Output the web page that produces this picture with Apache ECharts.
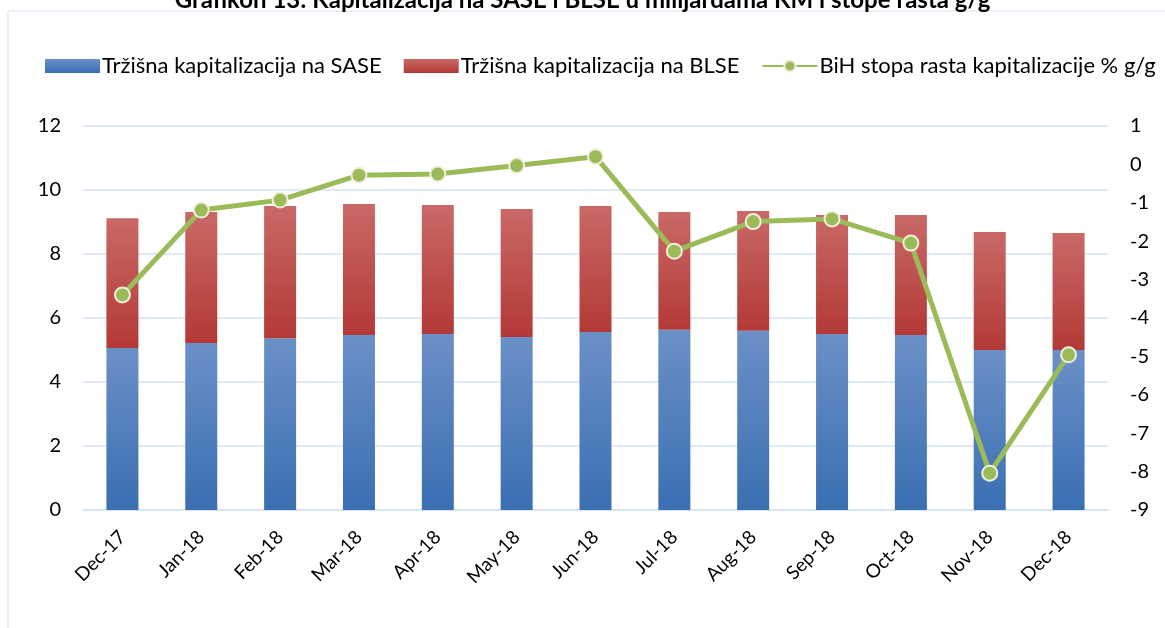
<!DOCTYPE html>
<html>
<head>
<meta charset="utf-8">
<script src="https://cdn.jsdelivr.net/npm/echarts@6/dist/echarts.min.js"></script>
<style>
  html, body { margin: 0; padding: 0; background: #fff; }
  #chart { width: 1165px; height: 628px; }
</style>
</head>
<body>
<div id="chart"></div>
<script>
// mjeseci
var months = ['Dec-17', 'Jan-18', 'Feb-18', 'Mar-18', 'Apr-18', 'May-18', 'Jun-18',
              'Jul-18', 'Aug-18', 'Sep-18', 'Oct-18', 'Nov-18', 'Dec-18'];
// SASE, mlrd KM
var saseCap = [5.06, 5.22, 5.37, 5.47, 5.50, 5.41, 5.56, 5.63, 5.60, 5.50, 5.47, 5.00, 5.00];
// BLSE, mlrd KM
var blseCap = [4.06, 4.09, 4.13, 4.09, 4.03, 4.00, 3.94, 3.68, 3.74, 3.72, 3.75, 3.69, 3.66];
// BiH stopa rasta % g/g
var growthRate = [-3.40, -1.19, -0.93, -0.28, -0.25, -0.03, 0.20, -2.26, -1.49, -1.42, -2.05, -8.04, -4.96];

var fontName = 'Lato';

var chart = echarts.init(document.getElementById('chart'));

var option = {
  animation: false,
  textStyle: { fontFamily: fontName },
  title: {
    text: 'Grafikon 13: Kapitalizacija na SASE i BLSE u milijardama KM i stope rasta g/g',
    left: 'center',
    top: -17,
    textStyle: { fontFamily: fontName, fontSize: 24, fontWeight: 'bold', color: '#000' }
  },
  graphic: [
    {
      type: 'rect',
      shape: { x: 8, y: 11, width: 1170, height: 630 },
      style: { fill: 'none', stroke: '#d6e2f0', lineWidth: 1 },
      silent: true
    }
  ],
  legend: {
    top: 50,
    left: 40,
    itemWidth: 55,
    itemHeight: 14,
    itemGap: 22,
    textStyle: { fontFamily: fontName, fontSize: 22, color: '#000', padding: [0, 0, 0, -3] },
    data: [
      { name: 'Tržišna kapitalizacija na SASE', icon: 'rect' },
      { name: 'Tržišna kapitalizacija na BLSE', icon: 'rect' },
      { name: 'BiH stopa rasta kapitalizacije % g/g' }
    ]
  },
  grid: { left: 83, right: 57, top: 126, bottom: 118 },
  xAxis: {
    type: 'category',
    data: months,
    axisLine: { lineStyle: { color: '#d6e2f0', width: 1.5 } },
    axisTick: { show: false },
    axisLabel: { rotate: 45, fontSize: 19, color: '#000', margin: 24, fontFamily: fontName }
  },
  yAxis: [
    {
      type: 'value',
      min: 0, max: 12, interval: 2,
      axisLine: { show: false },
      axisTick: { show: false },
      splitLine: { lineStyle: { color: '#d6e2f0', width: 1.5 } },
      axisLabel: { fontSize: 20, color: '#000', margin: 22, fontFamily: fontName }
    },
    {
      type: 'value',
      min: -9, max: 1, interval: 1,
      axisLine: { show: false },
      axisTick: { show: false },
      splitLine: { show: false },
      axisLabel: { fontSize: 20, color: '#000', margin: 22, fontFamily: fontName }
    }
  ],
  series: [
    {
      name: 'Tržišna kapitalizacija na SASE',
      type: 'bar',
      stack: 'cap',
      barWidth: 32,
      data: saseCap,
      itemStyle: {
        color: new echarts.graphic.LinearGradient(0, 0, 0, 1, [
          { offset: 0, color: '#6b90c8' },
          { offset: 1, color: '#3a6fb2' }
        ])
      }
    },
    {
      name: 'Tržišna kapitalizacija na BLSE',
      type: 'bar',
      stack: 'cap',
      barWidth: 32,
      data: blseCap,
      itemStyle: {
        color: new echarts.graphic.LinearGradient(0, 0, 0, 1, [
          { offset: 0, color: '#c96966' },
          { offset: 1, color: '#b33936' }
        ])
      }
    },
    {
      name: 'BiH stopa rasta kapitalizacije % g/g',
      type: 'line',
      yAxisIndex: 1,
      data: growthRate,
      symbol: 'circle',
      symbolSize: 15,
      lineStyle: { color: '#9bbb59', width: 5 },
      itemStyle: { color: '#9bbb59', borderColor: '#f1eedf', borderWidth: 2 },
      z: 5
    }
  ]
};

chart.setOption(option);
</script>
</body>
</html>
